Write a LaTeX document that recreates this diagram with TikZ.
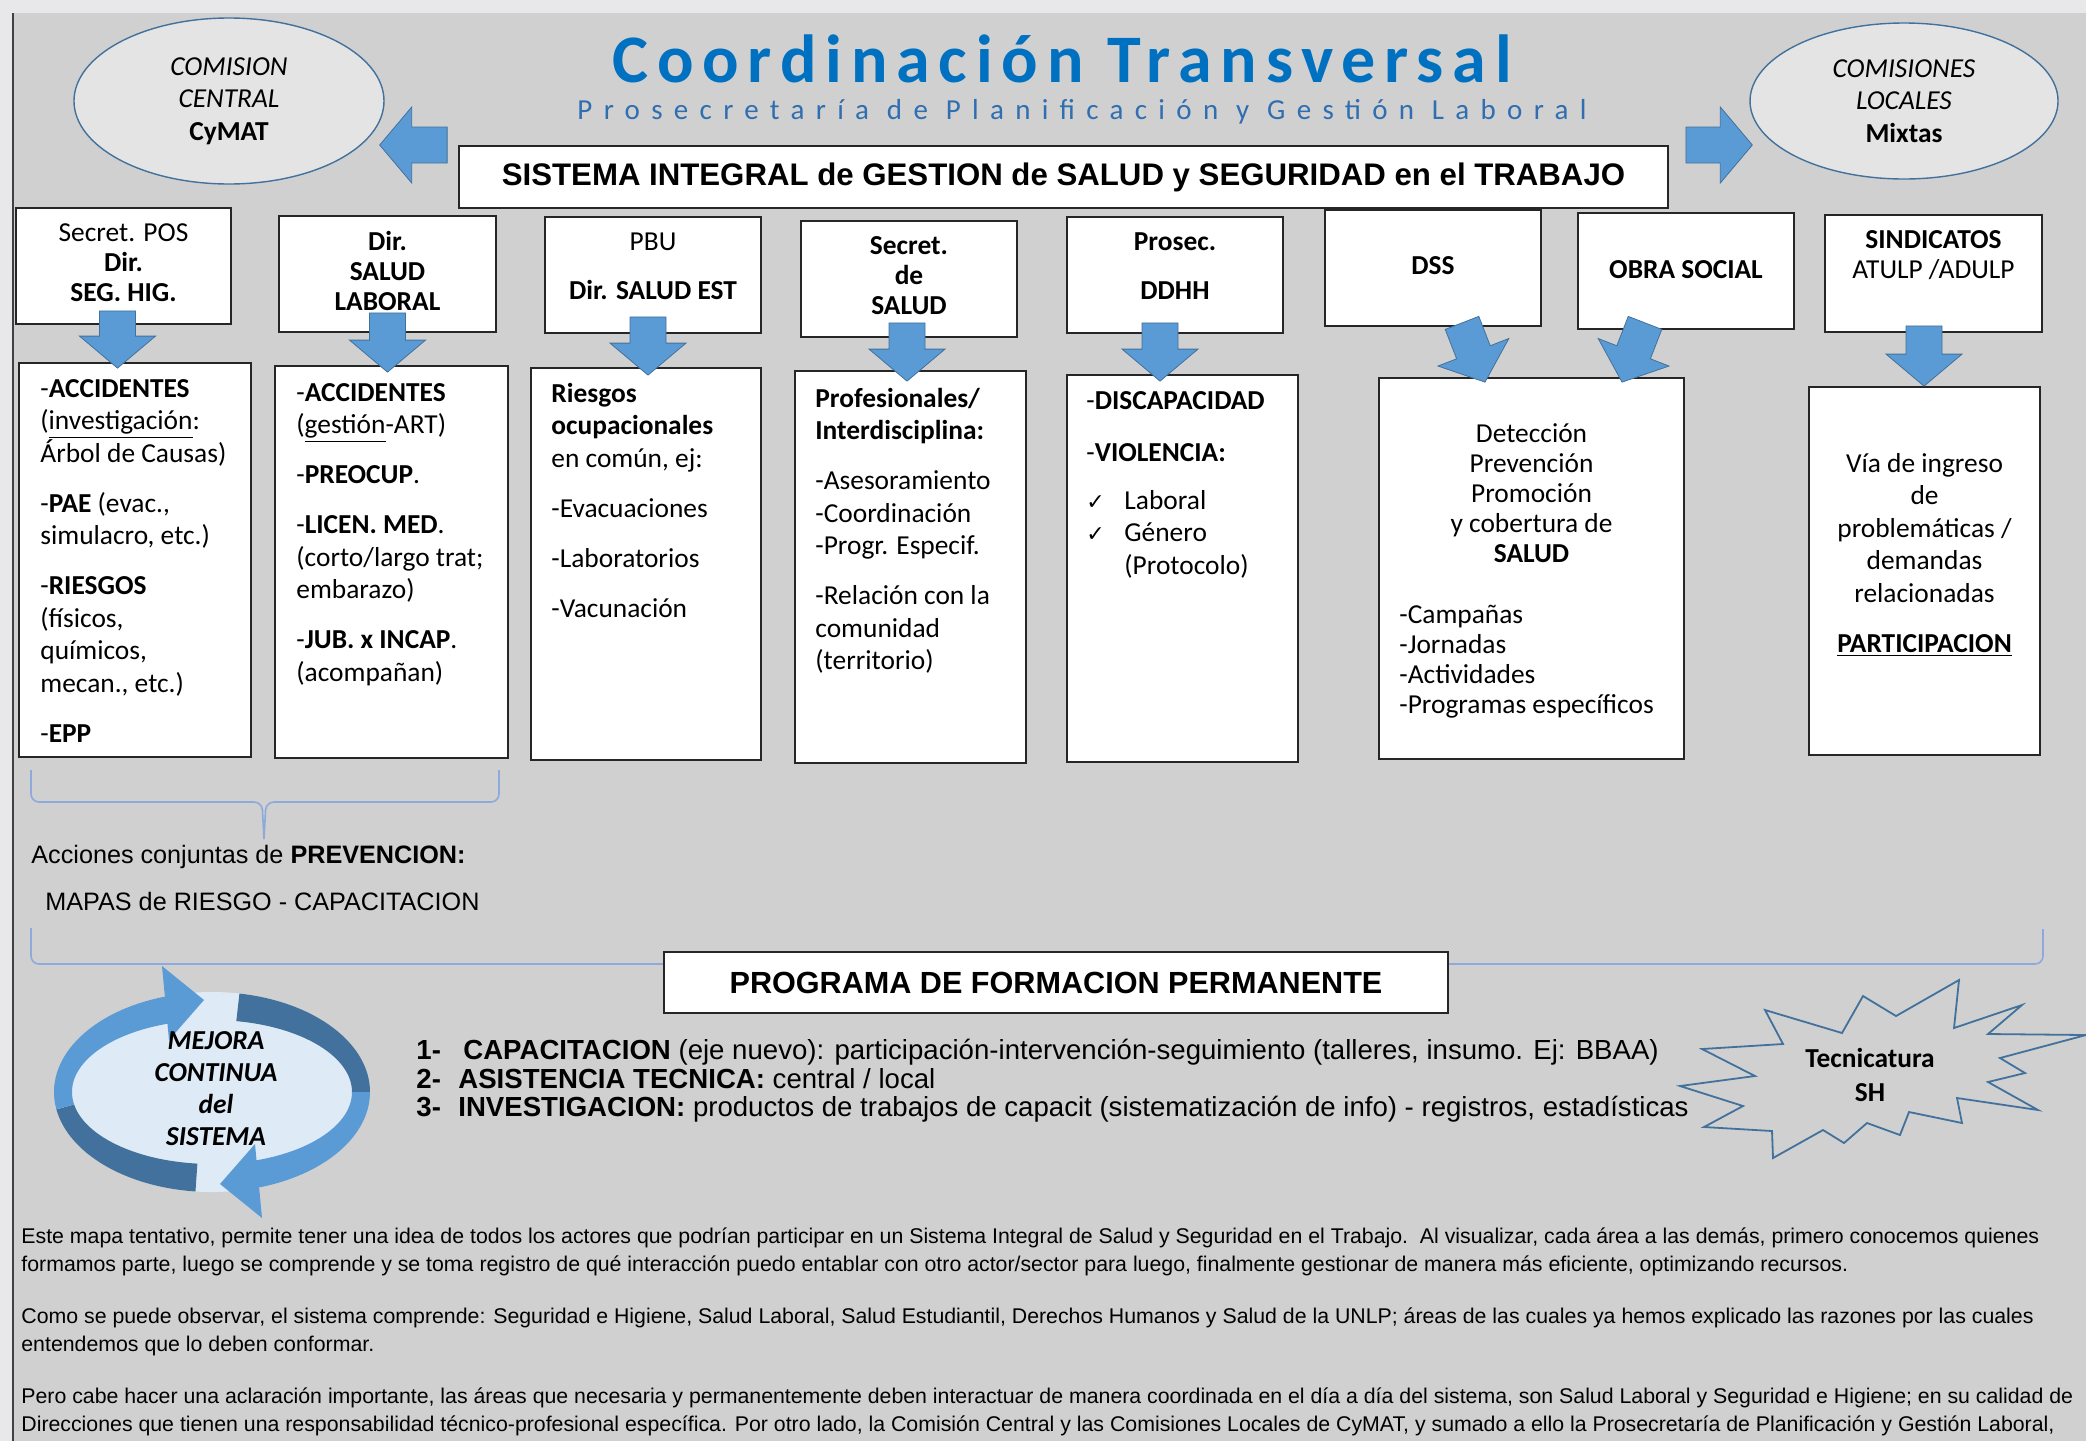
\documentclass[tikz,border=0pt]{standalone}
\usepackage{fontspec}
\setmainfont{Carlito}
\newfontfamily\arialf{Liberation Sans}
\newfontfamily\titlef[LetterSpace=13]{Carlito}
\newfontfamily\subf[LetterSpace=39]{Carlito}
\newfontfamily\symf{DejaVu Sans}
\usetikzlibrary{calc,positioning,shapes.geometric}

\definecolor{fondo}{HTML}{D0D0D0}
\definecolor{margen}{HTML}{E8E8EA}
\definecolor{azultit}{HTML}{0070C0}
\definecolor{azulsub}{HTML}{2F6EB0}
\definecolor{flecha}{HTML}{5B9BD5}
\definecolor{flechaborde}{HTML}{41719C}
\definecolor{elipse}{HTML}{E4E4E4}
\definecolor{llave}{HTML}{8EAADB}
\definecolor{palido}{HTML}{DEEBF7}

\newcommand{\gp}{8.75pt}
\newcommand{\blockarrow}[2]{%
  \coordinate (bq) at ($(#2)!16pt!(#1)$);
  \filldraw[flechabloque] ($(#1)!9pt!90:(#2)$) -- ($(bq)!9pt!90:(#2)$)
    -- ($(bq)!19pt!90:(#2)$) -- (#2) -- ($(bq)!19pt!-90:(#2)$)
    -- ($(bq)!9pt!-90:(#2)$) -- ($(#1)!9pt!-90:(#2)$) -- cycle;}

\begin{document}
\begin{tikzpicture}[x=0.5pt,y=-0.5pt,
  caja/.style={draw=black!85,line width=0.9pt,fill=white,inner sep=0pt},
  cab/.style={align=center,inner sep=0pt,font=\fontsize{13.7}{15}\selectfont},
  cuerpo/.style={align=left,inner sep=0pt,anchor=north west,font=\fontsize{13.7}{16.25}\selectfont},
  ovalo/.style={ellipse,draw=flechaborde,line width=0.7pt,fill=elipse,inner sep=0pt,align=center,font=\fontsize{13.7}{16.25}\selectfont},
  flechabloque/.style={fill=flecha,draw=flechaborde,line width=0.4pt},
  llaveline/.style={draw=llave,line width=0.8pt,rounded corners=4pt},
  arialtxt/.style={inner sep=0pt,anchor=base west,font=\arialf\fontsize{12.6}{14}\selectfont},
  listatxt/.style={inner sep=0pt,anchor=base west,font=\arialf\fontsize{13.8}{15}\selectfont},
  parrafo/.style={inner sep=0pt,anchor=base west,font=\arialf\fontsize{10.65}{14}\selectfont}]

\useasboundingbox (0,0) rectangle (2086,1441);
\fill[margen] (0,0) rectangle (2086,1441);
\fill[fondo] (13,13) rectangle (2086,1441);
\draw[black!75,line width=0.8pt] (13,13) -- (13,1441);

% titulo
\node[anchor=base,inner sep=0pt,text=azultit,font=\titlef\bfseries\fontsize{34}{38}\selectfont] (tit) at (1062,82) {Coordinación Transversal};
\node[anchor=base,inner sep=0pt,text=azulsub,font=\subf\fontsize{14.5}{16}\selectfont] (sub) at (1082,119) {Prosecretaría de Planificación y Gestión Laboral};

% comisiones
\node[ovalo,minimum width=155pt,minimum height=83pt] (cym) at (229,101) {\textit{COMISION}\\\textit{CENTRAL}\\\textbf{CyMAT}};
\node[ovalo,minimum width=154pt,minimum height=78pt] (loc) at (1904,101) {\textit{COMISIONES}\\\textit{LOCALES}\\\textbf{Mixtas}};

\node[caja,minimum width=604.5pt,minimum height=31pt,font=\arialf\bfseries\fontsize{15.6}{17}\selectfont] (sis) at (1063.5,177) {SISTEMA INTEGRAL de GESTION de SALUD y SEGURIDAD en el TRABAJO};

% areas
\node[caja,minimum width=107.5pt,minimum height=58pt] (h1) at (123.5,266) {};
\node[caja,minimum width=108.5pt,minimum height=58pt] (h2) at (387.5,274) {};
\node[caja,minimum width=108pt,minimum height=58pt] (h3) at (653,275) {};
\node[caja,minimum width=108pt,minimum height=58pt] (h4) at (909,279) {};
\node[caja,minimum width=108pt,minimum height=58pt] (h5) at (1175,275) {};
\node[caja,minimum width=108pt,minimum height=58pt] (h6) at (1433,268) {};
\node[caja,minimum width=108pt,minimum height=58pt] (h7) at (1686,271) {};
\node[caja,minimum width=108.5pt,minimum height=58.5pt] (h8) at (1933.5,273.5) {};

\node[cab] (h1t) at ([shift={(0,-3)}]h1.center) {Secret. POS\\\textbf{Dir.}\\\textbf{SEG. HIG.}};
\node[cab] (h2t) at ([shift={(0,-3.5)}]h2.center) {\textbf{Dir.}\\\textbf{SALUD}\\\textbf{LABORAL}};
\node[cab] (h3t) at ([shift={(0,-8.5)}]h3.center) {PBU\\[9.5pt]\textbf{Dir. SALUD EST}};
\node[cab] (h4t) at ([shift={(0,-3)}]h4.center) {\textbf{Secret.}\\\textbf{de}\\\textbf{SALUD}};
\node[cab] (h5t) at ([shift={(0,-8.5)}]h5.center) {\textbf{Prosec.}\\[9.5pt]\textbf{DDHH}};
\node[cab] (h6t) at ([shift={(0,-2)}]h6.center) {\textbf{DSS}};
\node[cab] (h7t) at ([shift={(0,-1)}]h7.center) {\textbf{OBRA SOCIAL}};
\node[cab] (h8t) at ([shift={(0,-18.5)}]h8.center) {\textbf{SINDICATOS}\\ATULP /ADULP};

% contenidos
\node[caja,minimum width=116pt,minimum height=197pt] (c1) at (135,560) {};
\node[caja,minimum width=116.5pt,minimum height=196pt] (c2) at (391.5,562) {};
\node[caja,minimum width=115pt,minimum height=196pt] (c3) at (646,564) {};
\node[caja,minimum width=115.5pt,minimum height=196pt] (c4) at (910.5,567) {};
\node[caja,minimum width=115.5pt,minimum height=193.5pt] (c5) at (1182.5,568.5) {};
\node[caja,minimum width=152.5pt,minimum height=190.5pt] (c6) at (1531.5,568.5) {};
\node[caja,minimum width=115.5pt,minimum height=184pt] (c7) at (1924.5,571) {};

\node[cuerpo] (c1t) at (40,374) {\strut-\textbf{ACCIDENTES}\\(\underline{investigación}:\\Árbol de Causas)\\[\gp]-\textbf{PAE} (evac.,\\simulacro, etc.)\\[\gp]-\textbf{RIESGOS}\\(físicos,\\químicos,\\mecan., etc.)\\[\gp]-\textbf{EPP}};
\node[cuerpo] (c2t) at (296,378) {\strut-\textbf{ACCIDENTES}\\(\underline{gestión}-ART)\\[\gp]-\textbf{PREOCUP}.\\[\gp]-\textbf{LICEN. MED}.\\(corto/largo trat;\\embarazo)\\[\gp]-\textbf{JUB. x INCAP}.\\(acompañan)};
\node[cuerpo] (c3t) at (551,379) {\strut\textbf{Riesgos}\\\textbf{ocupacionales}\\en común, ej:\\[\gp]-Evacuaciones\\[\gp]-Laboratorios\\[\gp]-Vacunación};
\node[cuerpo] (c4t) at (815,384) {\strut\textbf{Profesionales/}\\\textbf{Interdisciplina:}\\[\gp]-Asesoramiento\\-Coordinación\\-Progr. Especif.\\[\gp]-Relación con la\\comunidad\\(territorio)};
\node[cuerpo] (c5t) at (1086,386) {\strut-\textbf{DISCAPACIDAD}\\[9.75pt]-\textbf{VIOLENCIA:}\\[7.75pt]\makebox[19pt][l]{\symf\fontsize{11}{13}\selectfont ✓}Laboral\\\makebox[19pt][l]{\symf\fontsize{11}{13}\selectfont ✓}Género\\\hspace*{19pt}(Protocolo)};
\node[cuerpo,anchor=north,align=center,font=\fontsize{13.7}{15}\selectfont] (c6a) at (1531.5,421) {\strut Detección\\Prevención\\Promoción\\y cobertura de\\\textbf{SALUD}};
\node[cuerpo,font=\fontsize{13.7}{15}\selectfont] (c6b) at (1399,602) {\strut-Campañas\\-Jornadas\\-Actividades\\-Programas específicos};
\node[cuerpo,anchor=north,align=center] (c7t) at (1924.5,449) {\strut Vía de ingreso\\de\\problemáticas /\\demandas\\relacionadas\\[\gp]\textbf{\underline{PARTICIPACION}}};

% flechas
\coordinate (sL) at ([shift={(-11,-32)}]sis.west);
\coordinate (eL) at ($(sL -| cym.east)+(-5,0)$);
\coordinate (sR) at ([shift={(17,-32)}]sis.east);
\coordinate (eR) at ($(sR -| loc.west)+(3,0)$);
\blockarrow{sL}{eL}
\blockarrow{sR}{eR}

\coordinate (s1) at ([shift={(-6,-14)}]h1.south);
\coordinate (e1) at ($(s1 |- c1.north)+(0,6)$);
\coordinate (s2) at ([shift={(0,-20)}]h2.south);
\coordinate (e2) at ($(s2 |- c2.north)+(0,7)$);
\coordinate (s3) at ([shift={(-5,-17)}]h3.south);
\coordinate (e3) at ($(s3 |- c3.north)+(0,8)$);
\coordinate (s4) at ([shift={(-2,-15)}]h4.south);
\coordinate (e4) at ($(s4 |- c4.north)+(0,11)$);
\coordinate (s5) at ([shift={(-15,-11)}]h5.south);
\coordinate (e5) at ($(s5 |- c5.north)+(0,7)$);
\coordinate (s6) at ([shift={(29,-4)}]h6.south);
\coordinate (e6) at ([shift={(-46.5,5)}]c6.north);
\coordinate (s7) at ([shift={(-41,-7)}]h7.south);
\coordinate (e7) at ([shift={(90.5,5)}]c6.north);
\coordinate (s8) at ([shift={(-9.5,-7)}]h8.south);
\coordinate (e8) at (s8 |- c7.north);
\blockarrow{s1}{e1}
\blockarrow{s2}{e2}
\blockarrow{s3}{e3}
\blockarrow{s4}{e4}
\blockarrow{s5}{e5}
\blockarrow{s6}{e6}
\blockarrow{s7}{e7}
\blockarrow{s8}{e8}

% llaves
\draw[llaveline] (31,770) -- (31,802) -- (262,802) -- (264,839);
\draw[llaveline] (264,839) -- (266,802) -- (499,802) -- (499,770);
\node[arialtxt] (acc) at (31,863) {Acciones conjuntas de \textbf{PREVENCION:}};
\node[arialtxt] (map) at (45,910) {MAPAS de RIESGO - CAPACITACION};

\draw[llaveline] (31,928) -- (31,964) -- (2043,964) -- (2043,929);
\node[caja,minimum width=392pt,minimum height=30.5pt,font=\arialf\bfseries\fontsize{15.3}{17}\selectfont] (prog) at (1056,982.5) {PROGRAMA DE FORMACION PERMANENTE};

\node[listatxt] (l1) at (416,1059) {\makebox[23.5pt][l]{\textbf{1-}}\textbf{CAPACITACION} (eje nuevo): participación-intervención-seguimiento (talleres, insumo. Ej: BBAA)};
\node[listatxt] (l2) at (416,1088) {\makebox[21pt][l]{\textbf{2-}}\textbf{ASISTENCIA TECNICA:} central / local};
\node[listatxt] (l3) at (416,1116) {\makebox[21pt][l]{\textbf{3-}}\textbf{INVESTIGACION:} productos de trabajos de capacit (sistematización de info) - registros, estadísticas};

% mejora continua
\begin{scope}[shift={(212,1092)},yscale=-1]
  \fill[palido] (0,0) ellipse [x radius=156, y radius=100];
  \fill[flechaborde] (264:158 and 100) arc[start angle=264,end angle=190,x radius=158,y radius=100] -- (190:140 and 72) arc[start angle=190,end angle=264,x radius=140,y radius=72] -- cycle;
  \fill[flecha] (190:158 and 100) arc[start angle=190,end angle=107,x radius=158,y radius=100] -- (107:140 and 72) arc[start angle=107,end angle=190,x radius=140,y radius=72] -- cycle;
  \fill[flecha] (-50,126) -- (-8,92) -- (-43,52) -- cycle;
  \fill[flechaborde] (80:158 and 100) arc[start angle=80,end angle=0,x radius=158,y radius=100] -- (0:140 and 72) arc[start angle=0,end angle=80,x radius=140,y radius=72] -- cycle;
  \fill[flecha] (0:158 and 100) arc[start angle=0,end angle=-73,x radius=158,y radius=100] -- (-73:140 and 72) arc[start angle=-73,end angle=0,x radius=140,y radius=72] -- cycle;
  \fill[flecha] (50,-126) -- (8,-92) -- (43,-52) -- cycle;
\end{scope}
\node[align=center,inner sep=0pt,font=\bfseries\itshape\fontsize{13.7}{16}\selectfont] (mej) at (216,1089) {MEJORA\\CONTINUA\\del\\SISTEMA};

% tecnicatura
\draw[flechaborde,line width=0.9pt] (1959,980) -- (1954,1028) -- (2022,1005) -- (1988,1034) -- (2086,1035) -- (2000,1058) -- (2025,1073) -- (1988,1082) -- (2038,1110) -- (1957,1098) -- (1962,1123) -- (1909,1112) -- (1900,1135) -- (1867,1123) -- (1844,1143) -- (1823,1130) -- (1773,1158) -- (1772,1131) -- (1704,1127) -- (1743,1106) -- (1680,1086) -- (1755,1076) -- (1702,1049) -- (1783,1044) -- (1765,1010) -- (1842,1033) -- (1863,996) -- (1896,1016) -- cycle;
\node[align=center,inner sep=0pt,font=\bfseries\fontsize{13.7}{17}\selectfont] (tec) at (1870,1075) {Tecnicatura\\SH};

% texto inferior
\node[parrafo] (p1) at (21,1243.5) {Este mapa tentativo, permite tener una idea de todos los actores que podrían participar en un Sistema Integral de Salud y Seguridad en el Trabajo.\ \ Al visualizar, cada área a las demás, primero conocemos quienes};
\node[parrafo] (p2) at (21,1271.5) {formamos parte, luego se comprende y se toma registro de qué interacción puedo entablar con otro actor/sector para luego, finalmente gestionar de manera más eficiente, optimizando recursos.};
\node[parrafo] (p3) at (21,1323.5) {Como se puede observar, el sistema comprende: Seguridad e Higiene, Salud Laboral, Salud Estudiantil, Derechos Humanos y Salud de la UNLP; áreas de las cuales ya hemos explicado las razones por las cuales};
\node[parrafo] (p4) at (21,1351.5) {entendemos que lo deben conformar.};
\node[parrafo] (p5) at (21,1403.5) {Pero cabe hacer una aclaración importante, las áreas que necesaria y permanentemente deben interactuar de manera coordinada en el día a día del sistema, son Salud Laboral y Seguridad e Higiene; en su calidad de};
\node[parrafo] (p6) at (21,1431.5) {Direcciones que tienen una responsabilidad técnico-profesional específica. Por otro lado, la Comisión Central y las Comisiones Locales de CyMAT, y sumado a ello la Prosecretaría de Planificación y Gestión Laboral,};
\end{tikzpicture}
\end{document}
